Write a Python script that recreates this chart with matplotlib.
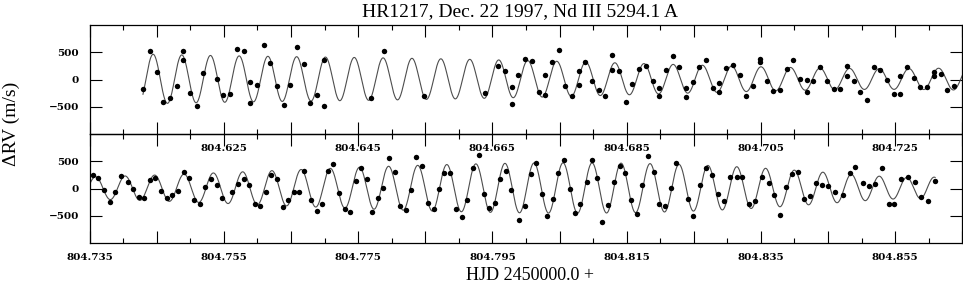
"""HR1217 Nd III radial-velocity curve, 22 Dec 1997 (two-panel time series)."""

import matplotlib

matplotlib.use("Agg")
import matplotlib.pyplot as plt
import numpy as np


TITLE = "HR1217, Dec. 22 1997, Nd III 5294.1 A"
X_LABEL = "HJD 2450000.0 +"
Y_LABEL = "\u0394RV (m/s)"

# first part of the night (upper panel)
HJD_TOP = [
    804.61295, 804.61394, 804.61499, 804.61597, 804.61692, 804.61796, 804.61894, 804.61894,
    804.61999, 804.62094, 804.62192, 804.62391, 804.62490, 804.62594, 804.62694, 804.62793,
    804.62891, 804.62891, 804.62991, 804.63091, 804.63189, 804.63293, 804.63393, 804.63487,
    804.63591, 804.63690, 804.63787, 804.63888, 804.63988, 804.63988, 804.64692, 804.64891,
    804.65487, 804.66384, 804.66582, 804.66682, 804.66786, 804.66786, 804.66885, 804.66990,
    804.67088, 804.67192, 804.67287, 804.67287, 804.67385, 804.67490, 804.67589, 804.67689,
    804.67787, 804.67787, 804.67887, 804.67987, 804.68085, 804.68185, 804.68289, 804.68289,
    804.68382, 804.68487, 804.68586, 804.68686, 804.68790, 804.68888, 804.68988, 804.68988,
    804.69088, 804.69186, 804.69286, 804.69385, 804.69385, 804.69484, 804.69583, 804.69683,
    804.69781, 804.69881, 804.69881, 804.69985, 804.70085, 804.70183, 804.70283, 804.70382,
    804.70481, 804.70481, 804.70591, 804.70685, 804.70784, 804.70882, 804.70982, 804.71082,
    804.71180, 804.71180, 804.71280, 804.71380, 804.71478, 804.71582, 804.71682, 804.71781,
    804.71781, 804.71880, 804.71979, 804.72079, 804.72183, 804.72281, 804.72381, 804.72481,
    804.72579, 804.72579, 804.72679, 804.72778, 804.72877, 804.72981, 804.73080, 804.73080,
    804.73180, 804.73278, 804.73378,
]
RV_TOP = [
    -172, 519, 142, -413, -333, -117, 519, 358,
    -247, -481, 123, 12, -278, -265, 562, 525,
    -43, -438, -105, 630, 302, -111, -463, -99,
    593, 290, -438, -278, 352, -488, -340, 531,
    -309, -247, 253, 154, -136, -444, 74, 377,
    340, -222, 80, -284, 327, 549, -111, -309,
    154, -93, 321, -19, -191, -302, 457, 167,
    148, -414, -80, 198, 253, -25, -160, -302,
    173, 432, 235, -154, -321, -49, 222, 364,
    -160, -62, -222, 210, 259, 80, -296, -117,
    370, 321, -19, -216, -185, 185, 358, 12,
    0, -228, -31, 228, -19, -172, -179, 247,
    68, -25, -222, -383, 228, 179, 0, -272,
    -272, 68, 235, 31, -130, -130, 62, 136,
    105, -197, -117,
]

# second part of the night (lower panel)
HJD_BOTTOM = [
    804.73546, 804.73629, 804.73719, 804.73804, 804.73882, 804.73967, 804.74067, 804.74150,
    804.74235, 804.74314, 804.74394, 804.74478, 804.74563, 804.74647, 804.74726, 804.74811,
    804.74900, 804.74984, 804.75058, 804.75138, 804.75222, 804.75302, 804.75391, 804.75475,
    804.75624, 804.75708, 804.75793, 804.75877, 804.75957, 804.76040, 804.76125, 804.76204,
    804.76289, 804.76374, 804.76452, 804.76542, 804.76621, 804.76701, 804.76799, 804.76880,
    804.76969, 804.77052, 804.77132, 804.77211, 804.77301, 804.77380, 804.77464, 804.77549,
    804.77632, 804.77713, 804.77792, 804.77871, 804.77960, 804.78045, 804.78124, 804.78208,
    804.78293, 804.78368, 804.78451, 804.78540, 804.78625, 804.78710, 804.78778, 804.78874,
    804.78957, 804.79042, 804.79121, 804.79210, 804.79295, 804.79374, 804.79454, 804.79533,
    804.79618, 804.79701, 804.79781, 804.79894, 804.79990, 804.80069, 804.80153, 804.80237,
    804.80311, 804.80396, 804.80481, 804.80560, 804.80649, 804.80734, 804.80808, 804.80902,
    804.80981, 804.81061, 804.81140, 804.81225, 804.81314, 804.81397, 804.81482, 804.81567,
    804.81650, 804.81731, 804.81820, 804.81903, 804.81988, 804.82067, 804.82156, 804.82241,
    804.82409, 804.82494, 804.82588, 804.82688, 804.82772, 804.82866, 804.82955, 804.83045,
    804.83138, 804.83223, 804.83317, 804.83406, 804.83521, 804.83615, 804.83699, 804.83784,
    804.83874, 804.83963, 804.84052, 804.84141, 804.84231, 804.84314, 804.84403, 804.84493,
    804.84607, 804.84722, 804.84820, 804.84905, 804.85019, 804.85109, 804.85198, 804.85302,
    804.85406, 804.85485, 804.85589, 804.85694, 804.85798, 804.85891, 804.85991, 804.86095,
]
RV_BOTTOM = [
    247, 191, -25, -253, -68, 228, 117, 0,
    -160, -179, 154, 191, -43, -173, -117, -49,
    296, 191, -204, -284, 19, 179, 56, -179,
    -62, 74, 179, 62, -290, -315, -68, 253,
    167, -333, -210, -68, -68, 321, -216, -420,
    -278, 315, 451, -87, -383, -438, 142, 370,
    167, -438, -179, 12, 556, 302, -327, -395,
    -31, 586, 414, -259, -383, -6, 284, 284,
    -370, -518, -216, 370, 617, -99, -364, -259,
    179, 327, -25, -574, -327, 272, 463, -99,
    -500, -191, 284, 519, -12, -457, -278, 117,
    531, 185, -617, -302, 123, 414, 290, -210,
    -463, 56, 605, 302, -278, -315, 6, 469,
    -185, -512, 62, 370, 241, -99, -235, 204,
    210, 210, -278, -235, 210, 105, -117, -481,
    19, 265, 302, -185, -142, 99, 68, 49,
    -68, -117, 284, 395, 99, 37, 87, 370,
    -278, -290, 167, 210, 123, -154, -222, 142,
]

XLIM_TOP = (804.605, 804.735)
XLIM_BOTTOM = (804.735, 804.865)
XTICK_LABELS_TOP = [804.625, 804.645, 804.665, 804.685, 804.705, 804.725]
XTICK_LABELS_BOTTOM = [804.735, 804.755, 804.775, 804.795, 804.815, 804.835, 804.855]
YTICKS = [-500, 0, 500]
YLIM = (-1000, 1000)

# pulsation model drawn through the points: main frequency (cycles/day)
# with slowly varying amplitude and phase, least-squares fitted to the points
PULS_FREQ = 230.75
ENVELOPE_DEGREE = 4


def pulsation_model(t, v, t_grid):
    tc = 0.5 * (t.min() + t.max())
    half = 0.5 * (t.max() - t.min())

    def design(x):
        s = (x - tc) / half
        ph = 2 * np.pi * PULS_FREQ * (x - tc)
        cols = [np.ones_like(x)]
        for k in range(ENVELOPE_DEGREE + 1):
            cols += [np.cos(ph) * s**k, np.sin(ph) * s**k]
        return np.column_stack(cols)

    coef, *_ = np.linalg.lstsq(design(t), v, rcond=None)
    return design(t_grid) @ coef


def style_panel(ax, xlim, labelled):
    ax.set_xlim(*xlim)
    ax.set_ylim(*YLIM)
    ax.patch.set_alpha(0)
    major = np.round(np.arange(xlim[0], xlim[1] + 1e-6, 0.01), 3)
    minor = np.round(np.arange(xlim[0] + 0.005, xlim[1], 0.01), 3)
    ax.set_xticks(major)
    ax.set_xticks(minor, minor=True)
    ax.set_xticklabels([f"{m:.3f}" if np.isclose(m, labelled).any() else "" for m in major])
    ax.set_yticks(YTICKS)
    ax.set_yticklabels([str(y).replace("-", "\u2212") for y in YTICKS])
    ax.tick_params(axis="both", which="both", direction="in", top=True, right=True, width=0.8, color="black")
    ax.tick_params(axis="x", which="major", length=8.5, pad=7.5)
    ax.tick_params(axis="x", which="minor", length=3.8)
    ax.tick_params(axis="y", which="major", length=8.5, pad=7.5)
    for spine in ax.spines.values():
        spine.set_linewidth(0.9)
    for lab in ax.get_xticklabels() + ax.get_yticklabels():
        lab.set_fontfamily("DejaVu Serif")
        lab.set_fontweight("bold")
        lab.set_fontsize(7.5)


def main():
    t_top, v_top = np.array(HJD_TOP), np.array(RV_TOP, float)
    t_bot, v_bot = np.array(HJD_BOTTOM), np.array(RV_BOTTOM, float)
    t_all = np.concatenate([t_top, t_bot])
    v_all = np.concatenate([v_top, v_bot])
    t_grid = np.linspace(t_all.min(), t_all.max(), 6000)
    model = pulsation_model(t_all, v_all, t_grid)

    fig = plt.figure(figsize=(9.63, 2.85), dpi=100)
    fig.patch.set_facecolor("white")
    W, H = 963.0, 285.0
    left, right = 89.6, 962.3
    ax_top = fig.add_axes([left / W, (H - 134) / H, (right - left) / W, 109 / H])
    ax_bot = fig.add_axes([left / W, (H - 243) / H, (right - left) / W, 109 / H])

    for ax, t, v, xlim, labelled in [
        (ax_top, t_top, v_top, XLIM_TOP, XTICK_LABELS_TOP),
        (ax_bot, t_bot, v_bot, XLIM_BOTTOM, XTICK_LABELS_BOTTOM),
    ]:
        ax.plot(t_grid, model, color="0.3", linewidth=0.8, zorder=2)
        ax.plot(t, v, "o", color="black", markersize=3.9, markeredgewidth=0, zorder=3)
        style_panel(ax, xlim, labelled)
    ax_top.set_zorder(3)

    fig.text(520 / W, 1 - 12 / H, TITLE, ha="center", va="center",
             fontfamily="Liberation Serif", fontsize=14)
    fig.text(530 / W, 1 - 276 / H, X_LABEL, ha="center", va="center",
             fontfamily="Liberation Serif", fontsize=13)
    fig.text(11 / W, 1 - 124 / H, Y_LABEL, ha="center", va="center", rotation=90,
             fontfamily="Liberation Serif", fontsize=14)

    fig.savefig("out.png", dpi=100, facecolor="white")
    plt.close(fig)


if __name__ == "__main__":
    main()
